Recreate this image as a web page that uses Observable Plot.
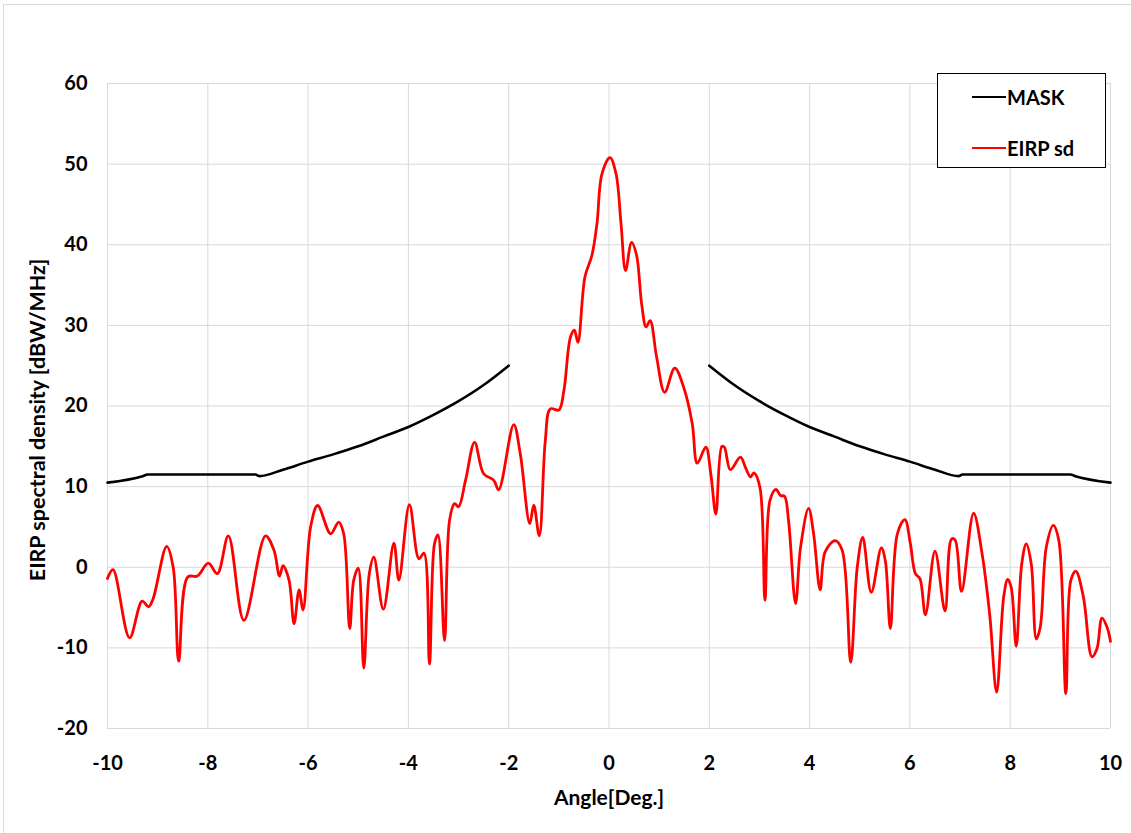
<!DOCTYPE html>
<html>
<head>
<meta charset="utf-8">
<script src="https://cdn.jsdelivr.net/npm/d3@7"></script>
<script src="https://cdn.jsdelivr.net/npm/@observablehq/plot@0.6"></script>
<style>
  html, body { margin: 0; padding: 0; background: #fff; overflow: hidden; }
  #wrap { position: relative; width: 1131px; height: 833px; font-family: Lato, "Open Sans", sans-serif; }
  #frame { position: absolute; left: 3px; top: 4px; width: 1140px; height: 840px; border: 1px solid #d9d9d9; box-sizing: border-box; }
  #chart { position: absolute; left: 0; top: 0; }
  #legend { position: absolute; left: 937px; top: 73px; width: 169px; height: 95px; border: 1.5px solid #000; box-sizing: border-box; background: #fff; }
  .item { position: absolute; left: 34px; height: 24px; display: flex; align-items: center; font-weight: bold; font-size: 20px; color: #000; }
  .sw { width: 34px; height: 0; border-top: 2.5px solid; margin-right: 1px; }
</style>
</head>
<body>
<div id="wrap">
  <div id="frame"></div>
  <div id="chart"></div>
  <div id="legend">
    <div class="item" style="top:11px"><span class="sw" style="border-color:#000"></span><span>MASK</span></div>
    <div class="item" style="top:62px"><span class="sw" style="border-color:#ff0000"></span><span>EIRP sd</span></div>
  </div>
</div>
<script>
// ---- data ----
const xTicks = [-10, -8, -6, -4, -2, 0, 2, 4, 6, 8, 10];
const yTicks = [-20, -10, 0, 10, 20, 30, 40, 50, 60];

const maskLeftX = [-10, -9.3, -9.2, -7.05, -6.97, -6.5, -6, -5.5, -5, -4.5, -4, -3.5, -3, -2.5, -2];
const maskLeftY = [10.5, 11.3, 11.5, 11.5, 11.3, 12.1, 13.1, 14.0, 15.0, 16.2, 17.4, 18.9, 20.6, 22.6, 25.0];
const maskRightX = [2, 2.5, 3, 3.5, 4, 4.5, 5, 5.5, 6, 6.5, 6.97, 7.05, 9.2, 9.3, 10];
const maskRightY = [25.0, 22.6, 20.6, 18.9, 17.4, 16.2, 15.0, 14.0, 13.1, 12.1, 11.3, 11.5, 11.5, 11.3, 10.5];

const eirpX = [-10.0, -9.89, -9.56, -9.31, -9.18, -9.09, -8.82, -8.69, -8.58, -8.40, -8.21, -7.99, -7.81, -7.59, -7.28,
  -6.85, -6.68, -6.57, -6.50, -6.38, -6.28, -6.18, -6.10, -5.95, -5.81, -5.55, -5.39, -5.29, -5.17, -5.09, -5.00,
  -4.89, -4.78, -4.69, -4.50, -4.29, -4.19, -3.98, -3.79, -3.69, -3.58, -3.48, -3.41, -3.28, -3.18, -3.08, -3.00,
  -2.86, -2.68, -2.50, -2.30, -2.20, -1.90, -1.77, -1.58, -1.50, -1.39, -1.27, -1.17, -1.00, -0.90, -0.77, -0.69,
  -0.62, -0.48, -0.34, -0.24, -0.14, 0.02, 0.14, 0.24, 0.33, 0.45, 0.55, 0.65, 0.74, 0.82, 0.95, 1.11, 1.31, 1.49,
  1.66, 1.76, 1.93, 2.03, 2.13, 2.25, 2.30, 2.42, 2.62, 2.72, 2.82, 2.89, 3.01, 3.11, 3.21, 3.33, 3.42, 3.50, 3.58,
  3.72, 3.82, 3.98, 4.08, 4.21, 4.31, 4.51, 4.65, 4.82, 4.95, 5.06, 5.23, 5.43, 5.51, 5.61, 5.75, 5.90, 6.01, 6.11,
  6.20, 6.31, 6.50, 6.70, 6.83, 6.90, 7.03, 7.27, 7.44, 7.59, 7.73, 7.87, 7.95, 8.02, 8.12, 8.23, 8.32, 8.42, 8.52,
  8.60, 8.72, 8.86, 8.97, 9.11, 9.21, 9.31, 9.46, 9.63, 9.73, 9.83, 9.93, 10.0];
const eirpY = [-1.4, -0.3, -8.75, -4.2, -4.9, -3.9, 2.6, 0.0, -11.65, -1.2, -1.1, 0.5, -0.8, 3.9, -6.6,
  3.9, 2.1, -1.1, 0.2, -1.6, -7.0, -2.8, -5.3, 5.0, 7.66, 4.15, 5.6, 4.15, -7.6, -1.6, -0.1,
  -12.5, -0.8, 1.25, -5.2, 3.0, -1.6, 7.75, 1.05, 1.75, -12.0, 2.9, 4.0, -9.1, 5.8, 7.9, 7.5,
  10.8, 15.5, 11.6, 10.8, 9.6, 17.7, 14.1, 5.4, 7.7, 3.9, 15.7, 19.65, 19.5, 21.9, 28.5, 29.4,
  27.9, 36.0, 38.7, 42.6, 48.8, 50.8, 48.8, 42.6, 36.8, 40.3, 38.7, 32.7, 29.8, 30.6, 26.05, 21.7, 24.7, 22.3,
  17.8, 12.9, 14.9, 11.6, 6.6, 15.0, 14.9, 12.1, 13.65, 12.4, 11.2, 11.7, 9.9, -4.1, 8.3, 9.65, 8.9, 8.8, 5.8,
  -4.5, 2.5, 7.3, 4.15, -2.8, 1.9, 3.3, 2.1, -11.8, 0.0, 3.7, -3.1, 2.4, 0.8, -7.6, 4.15, 5.9, 2.9, -0.8,
  -1.4, -5.9, 2.0, -5.4, 3.5, 3.4, -3.0, 6.7, 1.65, -5.8, -15.5, -3.7, -1.5, -2.5, -9.8, 0.4, 2.9, 0.4, -8.9,
  -7.4, 2.5, 5.2, 3.3, -15.7, -1.6, -0.5, -3.7, -11.1, -10.1, -6.3, -7.4, -9.2];

const xTitle = "Angle[Deg.]";
const yTitle = "EIRP spectral density [dBW/MHz]";

// ---- tables built from the arrays ----
const maskLeft = maskLeftX.map((x, i) => ({x, y: maskLeftY[i]}));
const maskRight = maskRightX.map((x, i) => ({x, y: maskRightY[i]}));
const eirp = eirpX.map((x, i) => ({x, y: eirpY[i]}));

const chart = Plot.plot({
  width: 1131,
  height: 833,
  marginLeft: 107,
  marginRight: 21,
  marginTop: 83,
  marginBottom: 105,
  style: { fontFamily: "Lato, 'Open Sans', sans-serif", fontSize: "20px", fontWeight: "bold", color: "#000", background: "transparent" },
  x: { domain: [-10, 10] },
  y: { domain: [-20, 60] },
  marks: [
    Plot.gridX(xTicks, { stroke: "#d9d9d9", strokeOpacity: 1, strokeWidth: 1 }),
    Plot.gridY(yTicks, { stroke: "#d9d9d9", strokeOpacity: 1, strokeWidth: 1 }),
    Plot.axisX(xTicks, { tickSize: 0, tickPadding: 27, tickFormat: d => String(d), label: null, fontSize: 20, fontWeight: "bold" }),
    Plot.axisY(yTicks, { tickSize: 0, tickPadding: 20, tickFormat: d => String(d), label: null, fontSize: 20, fontWeight: "bold" }),
    Plot.line(maskLeft, { x: "x", y: "y", stroke: "#000", strokeWidth: 2.6, curve: "monotone-x" }),
    Plot.line(maskRight, { x: "x", y: "y", stroke: "#000", strokeWidth: 2.6, curve: "monotone-x" }),
    Plot.line(eirp, { x: "x", y: "y", stroke: "#ff0000", strokeWidth: 2.8, curve: "catmull-rom" }),
    Plot.text([xTitle], { frameAnchor: "bottom", lineAnchor: "top", dy: 62, fontSize: 21, fontWeight: "bold", fill: "#000" }),
    Plot.text([yTitle], { frameAnchor: "left", textAnchor: "middle", lineAnchor: "middle", rotate: -90, dx: -69, dy: 14, fontSize: 21.5, fontWeight: "bold", fill: "#000" })
  ]
});
document.getElementById("chart").appendChild(chart);
</script>
</body>
</html>
